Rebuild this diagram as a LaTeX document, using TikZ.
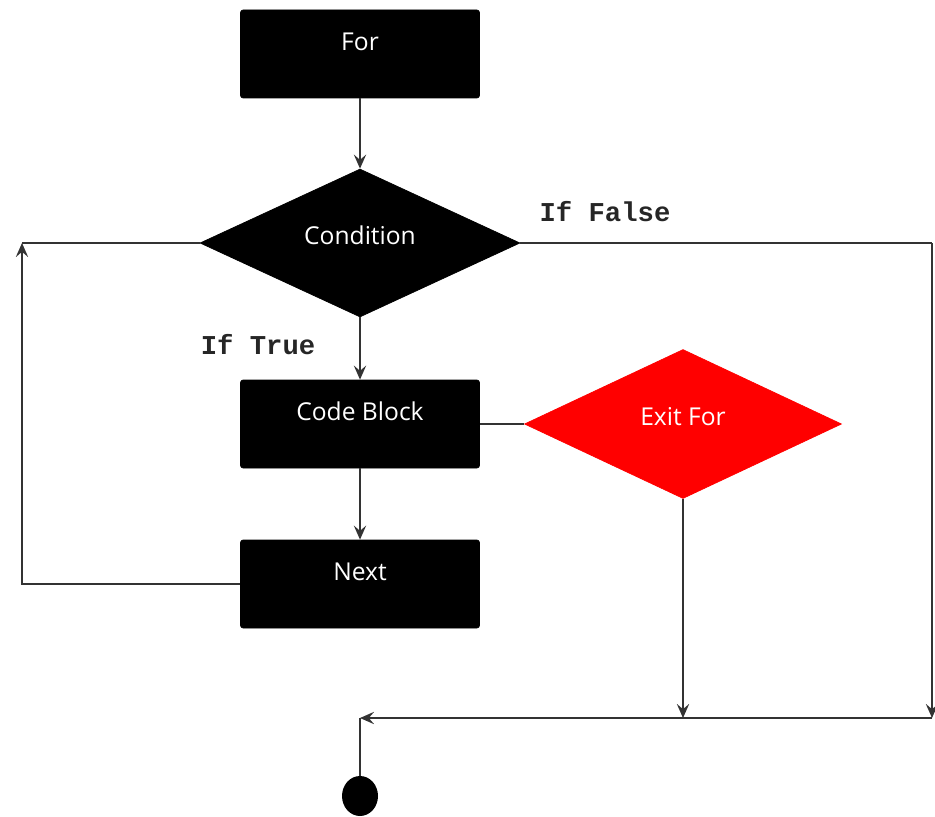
\documentclass[tikz,border=0pt]{standalone}
\usepackage{fontspec}
\setsansfont{Open Sans}
\newfontfamily\condfont{Liberation Mono}
\usetikzlibrary{shapes.geometric,arrows.meta}

\begin{document}
\begin{tikzpicture}[
		box/.style={draw=black, fill=black, rounded corners=1.5pt, text=white, minimum width=4.78cm, minimum height=1.76cm, font=\sffamily\fontsize{14}{16}\selectfont, text height=0.35cm, text depth=0.48cm},
		decision/.style={diamond, aspect=2.16, inner sep=0pt, text=white, font=\sffamily\fontsize{14}{16}\selectfont, text height=0.35cm, text depth=0.28cm},
		branch/.style={font=\condfont\bfseries\fontsize{15.5}{17}\selectfont, text=black!85},
		line/.style={draw=black!80, line width=1pt},
		arr/.style={line, -{Stealth[length=8pt, width=7pt, inset=3pt]}}
	]
		\useasboundingbox (0,0) rectangle (18.7,-16.34);
		
		\node[box] (for) at (7.2,-1.08) {For};
		\node[decision, fill=black, draw=black, minimum width=6.4cm, minimum height=2.96cm] (cond) at (7.2,-4.86) {Condition};
		\node[box] (code) at (7.2,-8.48) {Code Block};
		\node[decision, fill=red, draw=red, minimum width=6.34cm, minimum height=2.98cm] (exit) at (13.66,-8.48) {Exit For};
		\node[box] (next) at (7.2,-11.68) {Next};
		\node[ellipse, fill=black, inner sep=0pt, minimum width=0.72cm, minimum height=0.8cm] (stop) at (7.2,-15.92) {};
		
		\node[branch] (iffalse) at (12.1,-4.24) {If False};
		\node[branch] (iftrue) at (5.16,-6.9) {If True};
		
		\coordinate (tr) at (18.64,-4.86);
		\coordinate (br) at (18.64,-14.36);
		\coordinate (bm) at (13.66,-14.36);
		\coordinate (bl) at (7.2,-14.36);
		\coordinate (tl) at (0.44,-4.86);
		
		\draw[arr] (for) -- (cond);
		\draw[arr] (cond) -- (code);
		\draw[arr] (code) -- (next);
		\draw[line] (code) -- (exit);
		\draw[line] (cond.east) -- (tr);
		\draw[arr] (tr) -- (br);
		\draw[arr] (exit.south) -- (bm);
		\draw[arr] (br) -- (bl);
		\draw[line] (bl) -- (stop);
		\draw[arr] (next.west) -| (tl);
		\draw[line] (tl) -- (cond.west);
		
	\end{tikzpicture}
\end{document}
